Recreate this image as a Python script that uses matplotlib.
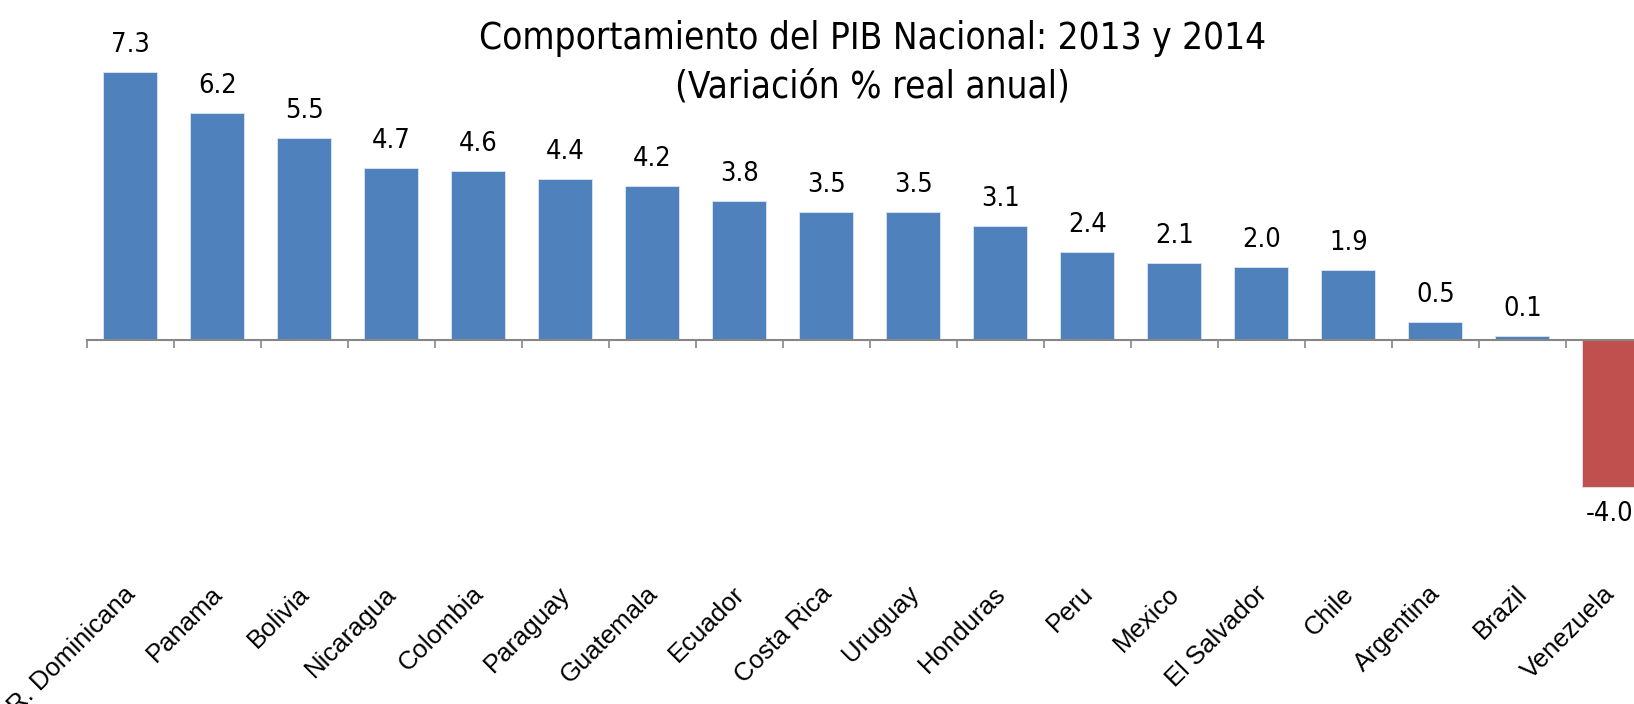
import numpy as np
import matplotlib
matplotlib.use("Agg")
import matplotlib.pyplot as plt
from matplotlib import font_manager
from matplotlib.transforms import ScaledTranslation

countries = ['R. Dominicana', 'Panama', 'Bolivia', 'Nicaragua', 'Colombia', 'Paraguay',
             'Guatemala', 'Ecuador', 'Costa Rica', 'Uruguay', 'Honduras', 'Peru',
             'Mexico', 'El Salvador', 'Chile', 'Argentina', 'Brazil', 'Venezuela']
growth = [7.3, 6.2, 5.5, 4.7, 4.6, 4.4, 4.2, 3.8, 3.5, 3.5, 3.1, 2.4, 2.1, 2.0, 1.9, 0.5, 0.1, -4.0]

# look for any condensed face that is installed (Arial Narrow look-alike)
cond = None
for f in font_manager.fontManager.ttflist:
    if f.stretch in ('condensed', 'semi-condensed', 'extra-condensed') or 'Narrow' in f.name:
        if f.style == 'normal' and f.weight in (400, 'normal', 'regular'):
            cond = f.fname
            break
if cond:
    narrow = dict(fname=cond)
else:
    narrow = dict(family=['Liberation Sans', 'DejaVu Sans'])
regular = ['Liberation Sans', 'DejaVu Sans']

fig = plt.figure(figsize=(16.34, 7.04), dpi=100)
ax = fig.add_axes([0.0531, 0.0483, 0.9584, 0.8855])

x = np.arange(len(countries))
colors = ['#4F81BD' if v >= 0 else '#C0504D' for v in growth]
bars = ax.bar(x, growth, width=0.62, color=colors, edgecolor='#DCE6F2', linewidth=0.6, zorder=2)

ax.set_xlim(-0.5, len(countries) - 0.5)
ax.set_ylim(-9, 8)

for s in ['top', 'right', 'left']:
    ax.spines[s].set_visible(False)
ax.spines['bottom'].set_position(('data', 0))
ax.spines['bottom'].set_color('#868686')
ax.spines['bottom'].set_linewidth(1.5)
ax.set_yticks([])

ax.set_xticks(x)
ax.set_xticklabels(countries, rotation=45, ha='right', va='top', fontsize=18.5, family=regular)
ax.set_xticks(np.arange(len(countries) + 1) - 0.5, minor=True)
ax.tick_params(axis='x', which='major', length=0, pad=174)
ax.tick_params(axis='x', which='minor', length=6, width=1.2, color='#868686')
for lab in ax.get_xticklabels():
    lab.set_transform(lab.get_transform() + ScaledTranslation(0.10, 0, fig.dpi_scale_trans))

for rect, v in zip(bars, growth):
    ax.annotate('%.1f' % v,
                xy=(rect.get_x() + rect.get_width() / 2, v),
                xytext=(0, 10 if v >= 0 else -10), textcoords='offset points',
                ha='center', va='bottom' if v >= 0 else 'top',
                fontproperties=font_manager.FontProperties(size=19.5, **narrow),
                color='black', annotation_clip=False)

fig.text(0.534, 0.93, 'Comportamiento del PIB Nacional: 2013 y 2014', ha='center', va='baseline',
         fontproperties=font_manager.FontProperties(size=26.5, **narrow))
fig.text(0.534, 0.862, '(Variación % real anual)', ha='center', va='baseline',
         fontproperties=font_manager.FontProperties(size=26.5, **narrow))

fig.savefig('out.png', dpi=100)
